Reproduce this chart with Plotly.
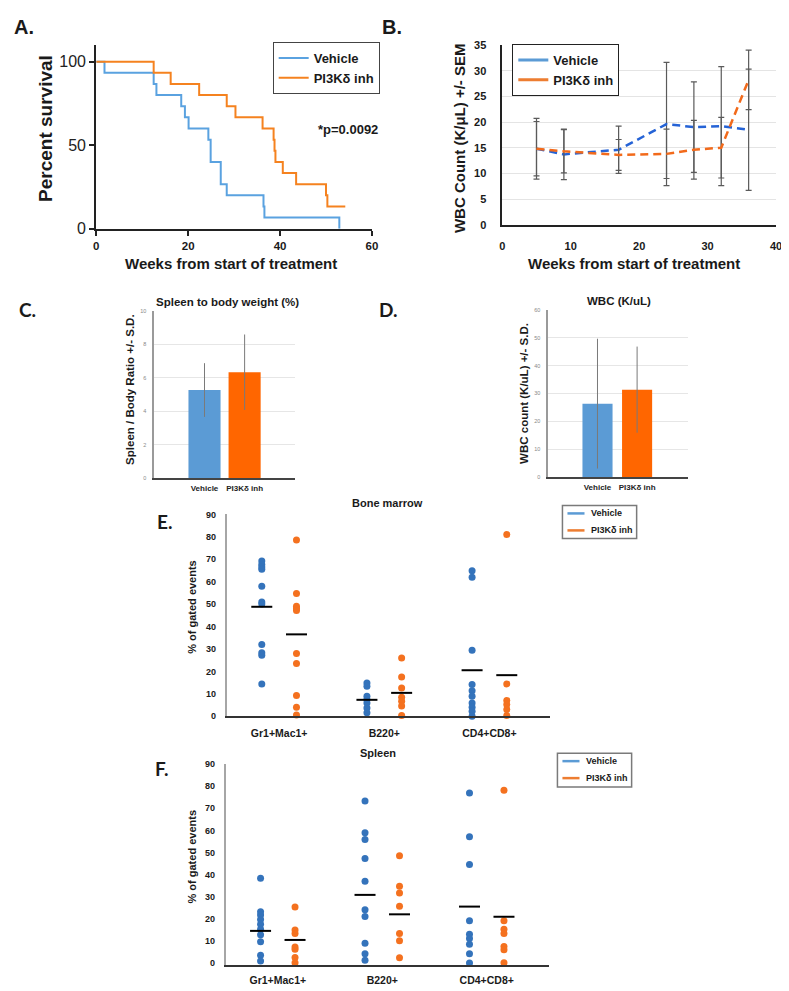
import plotly.graph_objects as go

# ---------------- data ----------------
# A: Kaplan-Meier survival
surv_weeks_vehicle = [0, 1.8, 12.5, 13.1, 18.5, 19.3, 20.1, 24.4, 24.9, 27.1, 28.4, 36.4, 36.6, 52.9]
surv_pct_vehicle = [100, 93.3, 86.7, 80, 73.3, 66.7, 60, 53.3, 40, 26.7, 20, 13.3, 6.7, 0]
surv_weeks_inh = [0, 12.5, 16.2, 22.4, 28.4, 30.3, 36.2, 38.6, 38.8, 39.0, 40.6, 43.5, 50.0, 50.3, 54.2]
surv_pct_inh = [100, 93.3, 86.7, 80, 73.3, 66.7, 60, 53.3, 46.7, 40, 33.3, 26.7, 20, 13.3, 13.3]

# B: WBC over time
wbc_weeks = [5, 9, 17, 24, 28, 32, 36]
wbc_vehicle = [14.8, 13.7, 14.6, 19.6, 19.0, 19.2, 18.5]
wbc_vehicle_sem = [5.9, 4.9, 4.6, 12.0, 8.8, 11.6, 11.8]
wbc_inh = [14.8, 14.3, 13.6, 13.8, 14.6, 15.0, 28.2]
wbc_inh_sem = [5.3, 4.2, 3.0, 4.8, 5.7, 5.9, 5.8]

# C / D: bar charts
groups = ["Vehicle", "PI3K\u03b4 inh"]
spleen_ratio = [5.27, 6.33]
spleen_ratio_sd = [1.6, 2.25]
wbc_end = [26.4, 31.4]
wbc_end_sd = [23.2, 15.4]

# E / F: flow cytometry
populations = ["Gr1+Mac1+", "B220+", "CD4+CD8+"]
bm_vehicle = [
    [69.2, 67.7, 66.5, 65.5, 58.0, 50.9, 50.0, 32.0, 28.3, 27.2, 14.4],
    [14.8, 13.4, 8.9, 7.4, 5.9, 3.7, 1.5],
    [64.9, 62.0, 29.4, 14.1, 11.4, 8.9, 5.9, 4.0, 2.2, 0.0],
]
bm_inh = [
    [78.6, 54.7, 49.0, 48.0, 47.1, 28.0, 23.5, 9.2, 4.0, 0.5],
    [26.0, 17.5, 12.6, 8.5, 6.7, 4.5, 0.3],
    [81.0, 14.4, 7.0, 5.2, 3.0, 0.3],
]
bm_vehicle_mean = [48.8, 7.3, 20.5]
bm_inh_mean = [36.5, 10.4, 18.3]

sp_vehicle = [
    [38.3, 23.2, 21.7, 19.7, 17.5, 15.2, 12.7, 9.6, 3.5, 0.9],
    [73.3, 58.9, 55.9, 47.3, 37.0, 24.1, 21.0, 8.9, 4.2, 1.2],
    [76.9, 57.1, 44.6, 19.1, 13.0, 11.0, 8.4, 4.2, 0.0],
]
sp_inh = [
    [25.3, 14.9, 13.3, 7.2, 6.2, 2.4, 0.1],
    [48.5, 34.7, 31.7, 25.6, 13.3, 10.0, 2.3],
    [78.2, 19.1, 15.2, 13.3, 7.4, 6.0, 0.1],
]
sp_vehicle_mean = [14.5, 30.8, 25.5]
sp_inh_mean = [10.4, 22.0, 20.9]

# ---------------- layout helpers ----------------
W, H = 789, 991
FONT = "Liberation Sans"
# empirical mapping page-pixel -> figure-pixel
S, O = 0.986, 12.0


def fpx(v):
    return (v - O) / S


def px(x):
    return fpx(x) / W


def py(y):
    return 1 - fpx(y) / H


def xd(a, b):
    return [max(0, px(a)), min(1, px(b))]


def yd(top, bot):
    return [max(0, py(bot)), min(1, py(top))]


BLUE_KM = "#5aa2e0"
ORANGE_KM = "#f5821f"
BLUE_LEG = "#5b9bd5"
ORANGE_LEG = "#ed7d31"
BLUE_DASH = "#2563d6"
ORANGE_DASH = "#f26a1b"
BLUE_BAR = "#5b9bd5"
ORANGE_BAR = "#ff6600"
BLUE_DOT = "#3473bb"
ORANGE_DOT = "#f4711f"

fig = go.Figure()

# ---- A ----
fig.add_trace(go.Scatter(x=surv_weeks_vehicle, y=surv_pct_vehicle, mode="lines", line_shape="hv",
                         line=dict(color=BLUE_KM, width=2), name="Vehicle",
                         xaxis="x", yaxis="y", legend="legend"))
fig.add_trace(go.Scatter(x=surv_weeks_inh, y=surv_pct_inh, mode="lines", line_shape="hv",
                         line=dict(color=ORANGE_KM, width=2), name="PI3K\u03b4 inh",
                         xaxis="x", yaxis="y", legend="legend"))

# ---- B ----
fig.add_trace(go.Scatter(x=wbc_weeks, y=wbc_vehicle, mode="lines",
                         line=dict(color=BLUE_DASH, width=2.5, dash="8px,5px"),
                         error_y=dict(type="data", array=wbc_vehicle_sem, color="#5a5a5a", thickness=1.2, width=3),
                         showlegend=False, xaxis="x2", yaxis="y2"))
fig.add_trace(go.Scatter(x=wbc_weeks, y=wbc_inh, mode="lines",
                         line=dict(color=ORANGE_DASH, width=2.5, dash="8px,5px"),
                         error_y=dict(type="data", array=wbc_inh_sem, color="#5a5a5a", thickness=1.2, width=3),
                         showlegend=False, xaxis="x2", yaxis="y2"))
fig.add_trace(go.Scatter(x=[None], y=[None], mode="lines", line=dict(color=BLUE_LEG, width=3),
                         name="Vehicle", xaxis="x2", yaxis="y2", legend="legend2"))
fig.add_trace(go.Scatter(x=[None], y=[None], mode="lines", line=dict(color=ORANGE_LEG, width=3),
                         name="PI3K\u03b4 inh", xaxis="x2", yaxis="y2", legend="legend2"))

# ---- C ----
fig.add_trace(go.Bar(x=[0, 1], y=spleen_ratio, width=0.8, marker=dict(color=[BLUE_BAR, ORANGE_BAR], line=dict(width=0)),
                     error_y=dict(type="data", array=spleen_ratio_sd, color="#7a7a7a", thickness=1, width=0),
                     showlegend=False, xaxis="x3", yaxis="y3"))
# ---- D ----
fig.add_trace(go.Bar(x=[0, 1], y=wbc_end, width=0.76, marker=dict(color=[BLUE_BAR, ORANGE_BAR], line=dict(width=0)),
                     error_y=dict(type="data", array=wbc_end_sd, color="#7a7a7a", thickness=1, width=0),
                     showlegend=False, xaxis="x4", yaxis="y4"))

# ---- E / F ----
OFF = 0.165


def add_dots(vals_v, vals_i, mean_v, mean_i, xa, ya):
    for i in range(len(populations)):
        fig.add_trace(go.Scatter(x=[i - OFF] * len(vals_v[i]), y=vals_v[i], mode="markers",
                                 marker=dict(color=BLUE_DOT, size=7), showlegend=False,
                                 cliponaxis=False, xaxis=xa, yaxis=ya))
        fig.add_trace(go.Scatter(x=[i + OFF] * len(vals_i[i]), y=vals_i[i], mode="markers",
                                 marker=dict(color=ORANGE_DOT, size=7), showlegend=False,
                                 cliponaxis=False, xaxis=xa, yaxis=ya))
    fig.add_trace(go.Scatter(x=[i - OFF for i in range(3)], y=mean_v, mode="markers",
                             marker=dict(symbol="line-ew", size=15, line=dict(color="black", width=2)),
                             showlegend=False, cliponaxis=False, xaxis=xa, yaxis=ya))
    fig.add_trace(go.Scatter(x=[i + OFF for i in range(3)], y=mean_i, mode="markers",
                             marker=dict(symbol="line-ew", size=15, line=dict(color="black", width=2)),
                             showlegend=False, cliponaxis=False, xaxis=xa, yaxis=ya))


add_dots(bm_vehicle, bm_inh, bm_vehicle_mean, bm_inh_mean, "x5", "y5")
add_dots(sp_vehicle, sp_inh, sp_vehicle_mean, sp_inh_mean, "x6", "y6")

# ---------------- axes ----------------
bold = dict(family=FONT, weight="bold", color="#1a1a1a")

layout = dict(
    width=W, height=H, margin=dict(l=0, r=0, t=0, b=0),
    paper_bgcolor="white", plot_bgcolor="white",
    font=dict(family=FONT, color="#1a1a1a"),
    # A
    xaxis=dict(domain=xd(97, 372), range=[0, 60], anchor="y", tickvals=[0, 20, 40, 60],
               showline=True, linecolor="#222", linewidth=2, ticks="outside", ticklen=5, tickwidth=2,
               tickcolor="#222", showgrid=False, zeroline=False, tickfont=dict(bold, size=11.5)),
    yaxis=dict(domain=yd(43, 227), range=[0, 110], anchor="x", tickvals=[0, 50, 100],
               showline=True, linecolor="#222", linewidth=2, ticks="outside", ticklen=5, tickwidth=2,
               tickcolor="#222", showgrid=False, zeroline=False,
               tickfont=dict(family=FONT, size=16, color="#222")),
    # B
    xaxis2=dict(domain=xd(502, 775), range=[0, 40], anchor="y2", dtick=10,
                showline=True, linecolor="#222", linewidth=1.5, ticks="", showgrid=False, zeroline=False,
                tickfont=dict(bold, size=11), ticklabelstandoff=10),
    yaxis2=dict(domain=yd(43, 223), range=[0, 35], anchor="x2", dtick=5,
                showline=True, linecolor="#222", linewidth=1.5, ticks="", showgrid=True,
                gridcolor="#e4e4e4", gridwidth=1, zeroline=False,
                tickfont=dict(bold, size=11), ticklabelstandoff=12),
    # C
    xaxis3=dict(domain=xd(155, 295), range=[-1.25, 2.25], anchor="y3", tickvals=[0, 1], ticktext=groups,
                showline=True, linecolor="#444", linewidth=1.5, ticks="", showgrid=False, zeroline=False,
                tickfont=dict(family=FONT, size=8, color="#222", weight="bold"), ticklabelstandoff=1),
    yaxis3=dict(domain=yd(309, 477), range=[0, 10], anchor="x3", dtick=2,
                showline=True, linecolor="#9a9a9a", linewidth=2, ticks="", showgrid=True,
                gridcolor="#e6e6e6", zeroline=False,
                tickfont=dict(family=FONT, size=5.5, color="#888"), ticklabelstandoff=5),
    # D
    xaxis4=dict(domain=xd(548, 687), range=[-1.24, 2.28], anchor="y4", tickvals=[0, 1], ticktext=groups,
                showline=True, linecolor="#444", linewidth=1.5, ticks="", showgrid=False, zeroline=False,
                tickfont=dict(family=FONT, size=8, color="#222", weight="bold"), ticklabelstandoff=1),
    yaxis4=dict(domain=yd(308, 476), range=[0, 60], anchor="x4", dtick=10,
                showline=True, linecolor="#9a9a9a", linewidth=2, ticks="", showgrid=True,
                gridcolor="#e6e6e6", zeroline=False,
                tickfont=dict(family=FONT, size=5.5, color="#888"), ticklabelstandoff=5),
    # E
    xaxis5=dict(domain=xd(227, 550), range=[-0.5, 2.58], anchor="y5", tickvals=[0, 1, 2], ticktext=populations,
                showline=True, linecolor="#333", linewidth=1.5, ticks="", showgrid=False, zeroline=False,
                tickfont=dict(bold, size=10.5), ticklabelstandoff=6),
    yaxis5=dict(domain=yd(513, 715), range=[0, 90], anchor="x5", dtick=10,
                showline=True, linecolor="#a6a6a6", linewidth=1.5, ticks="", showgrid=False, zeroline=False,
                tickfont=dict(bold, size=9), ticklabelstandoff=7),
    # F
    xaxis6=dict(domain=xd(226, 549), range=[-0.5, 2.6], anchor="y6", tickvals=[0, 1, 2], ticktext=populations,
                showline=True, linecolor="#333", linewidth=1.5, ticks="", showgrid=False, zeroline=False,
                tickfont=dict(bold, size=10.5), ticklabelstandoff=5),
    yaxis6=dict(domain=yd(763, 964), range=[-0.9, 90], anchor="x6", dtick=10,
                showline=True, linecolor="#a6a6a6", linewidth=1.5, ticks="", showgrid=False, zeroline=False,
                tickfont=dict(bold, size=9), ticklabelstandoff=7),
    # legends
    legend=dict(x=px(273), y=py(40), xanchor="left", yanchor="top", bgcolor="white",
                bordercolor="#444", borderwidth=1, font=dict(bold, size=13), itemwidth=30,
                tracegroupgap=0),
    legend2=dict(x=px(512), y=py(42), xanchor="left", yanchor="top", bgcolor="white",
                 bordercolor="#222", borderwidth=1, font=dict(bold, size=13), itemwidth=30),
)
fig.update_layout(**layout)


def ann(text, x, y, size, angle=0, family=FONT, xanchor="center", yanchor="middle", weight="bold", color="#1a1a1a"):
    fig.add_annotation(text=text, x=px(x), y=py(y), xref="paper", yref="paper", showarrow=False,
                       textangle=angle, xanchor=xanchor, yanchor=yanchor,
                       font=dict(family=family, size=size, weight=weight, color=color))


def box_legend(x0, y0, x1, y1, rows, size):
    fig.add_shape(type="rect", xref="paper", yref="paper", x0=px(x0), x1=px(x1), y0=py(y1), y1=py(y0),
                  line=dict(color="#7a7a7a", width=1.5), fillcolor="white")
    for (name, color, yy) in rows:
        fig.add_shape(type="line", xref="paper", yref="paper", x0=px(x0 + 5), x1=px(x0 + 22),
                      y0=py(yy), y1=py(yy), line=dict(color=color, width=2.5))
        ann(name, x0 + 26, yy, size, xanchor="left")


# E/F legends
box_legend(562, 504, 636, 537, [("Vehicle", BLUE_LEG, 512), ("PI3K\u03b4 inh", ORANGE_LEG, 529)], 9)
box_legend(557, 752, 631, 786, [("Vehicle", BLUE_LEG, 760), ("PI3K\u03b4 inh", ORANGE_LEG, 777)], 9)

# panel letters
ann("A.", 13, 25, 20, xanchor="left")
ann("B.", 392, 25, 20)
ann("C.", 28, 308, 19, family="Lato")
ann("D.", 389, 308, 19, family="Lato")
ann("E.", 165, 520, 19, family="Lato")
ann("F.", 163, 767, 19, family="Lato")

# A texts
ann("Percent survival", 47, 127, 19, angle=-90)
ann("Weeks from start of treatment", 231, 262, 15)
ann("*p=0.0092", 348, 128, 13)
# B texts
ann("WBC Count (K/\u03bcL) +/- SEM", 460, 136, 15, angle=-90)
ann("Weeks from start of treatment", 633, 262, 15)
# C/D texts
ann("Spleen to body weight (%)", 228, 300, 11.5)
ann("Spleen / Body Ratio +/- S.D.", 130, 388, 11.5, angle=-90)
ann("WBC (K/uL)", 618, 299, 11.5)
ann("WBC count (K/uL) +/- S.D.", 523, 392, 11.5, angle=-90)
# E/F texts
ann("Bone marrow", 388, 502, 11)
ann("% of gated events", 193, 605, 11, angle=-90)
ann("Spleen", 378, 752, 11)
ann("% of gated events", 193, 855, 11, angle=-90)

fig.write_html("out.html")
